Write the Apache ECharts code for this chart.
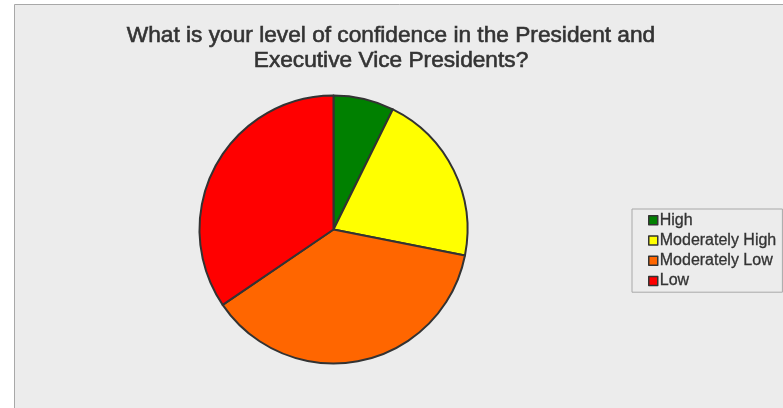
<!DOCTYPE html>
<html>
<head>
<meta charset="utf-8">
<script src="https://cdn.jsdelivr.net/npm/echarts@6/dist/echarts.min.js"></script>
<style>
  html, body { margin: 0; padding: 0; background: #ffffff; }
  #chart { width: 783px; height: 408px; }
</style>
</head>
<body>
<div id="chart"></div>
<script>
// Survey responses (percent of respondents)
const categories = ['High', 'Moderately High', 'Moderately Low', 'Low'];
const shares = [7.3, 20.8, 37.4, 34.5];
const sliceColors = ['#008000', '#ffff00', '#ff6600', '#ff0000'];

const chart = echarts.init(document.getElementById('chart'), null, { renderer: 'canvas' });

const pieData = categories.map((name, i) => ({
  name: name,
  value: shares[i],
  itemStyle: { color: sliceColors[i] }
}));

chart.setOption({
  animation: false,
  backgroundColor: '#ffffff',
  graphic: [{
    type: 'rect',
    z: -10,
    shape: { x: 14.5, y: 4.5, width: 800, height: 420 },
    style: { fill: '#ececec', stroke: '#a8a8a8', lineWidth: 1 }
  }],
  title: {
    text: 'What is your level of confidence in the President and\nExecutive Vice Presidents?',
    left: 391,
    top: 23,
    padding: 0,
    textAlign: 'center',
    textStyle: {
      fontFamily: 'Liberation Sans',
      fontSize: 22.7,
      fontWeight: 'normal',
      color: '#333333',
      textBorderColor: '#333333',
      textBorderWidth: 0.6,
      lineHeight: 25
    }
  },
  legend: {
    orient: 'vertical',
    left: 632,
    top: 209,
    padding: [3, 6, 3, 16],
    backgroundColor: '#ececec',
    borderColor: '#a8a8a8',
    borderWidth: 1,
    borderRadius: 0,
    itemWidth: 9,
    itemHeight: 9,
    itemGap: 4,
    icon: 'rect',
    itemStyle: { borderColor: '#333333', borderWidth: 1.5 },
    textStyle: {
      fontFamily: 'Liberation Sans',
      fontSize: 16,
      lineHeight: 16,
      color: '#333333',
      textBorderColor: '#333333',
      textBorderWidth: 0.3,
      padding: [0, 0, 0, -3]
    },
    data: categories
  },
  series: [{
    type: 'pie',
    center: [333.5, 229.5],
    radius: 134,
    startAngle: 90,
    clockwise: true,
    label: { show: false },
    labelLine: { show: false },
    emphasis: { disabled: true },
    itemStyle: { borderColor: '#333333', borderWidth: 2 },
    data: pieData
  }]
});
</script>
</body>
</html>
